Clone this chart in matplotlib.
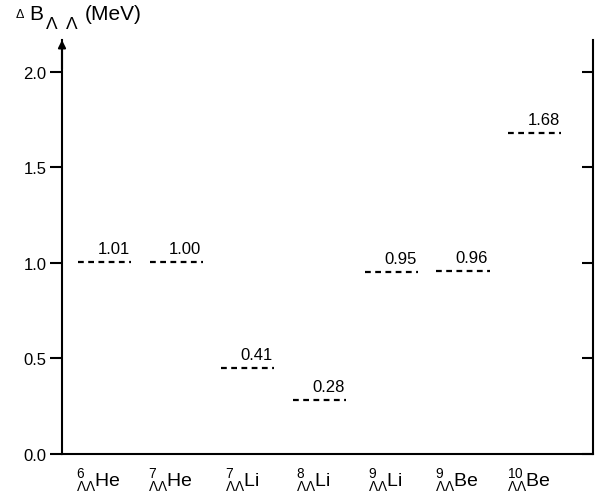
import matplotlib
matplotlib.use('Agg')
import matplotlib.pyplot as plt
import matplotlib.transforms as mtransforms

plt.rcParams['font.family'] = ['Liberation Sans', 'DejaVu Sans']
plt.rcParams['mathtext.fontset'] = 'custom'
plt.rcParams['mathtext.rm'] = 'Liberation Sans'
plt.rcParams['mathtext.it'] = 'Liberation Sans:italic'
plt.rcParams['mathtext.bf'] = 'Liberation Sans:bold'

# 数据
nuclei = ['6He', '7He', '7Li', '8Li', '9Li', '9Be', '10Be']
mass_numbers = ['6', '7', '7', '8', '9', '9', '10']
elements = ['He', 'He', 'Li', 'Li', 'Li', 'Be', 'Be']
delta_b = [1.005, 1.005, 0.45, 0.283, 0.953, 0.96, 1.68]   # 图中线段高度
value_labels = ['1.01', '1.00', '0.41', '0.28', '0.95', '0.96', '1.68']
yticks = [0.0, 0.5, 1.0, 1.5, 2.0]

fig = plt.figure(figsize=(6.05, 5.02), dpi=100)
ax = fig.add_axes([62 / 605, 47 / 502, 531 / 605, 414 / 502])

x = list(range(len(nuclei)))
half = 0.37
for xi, yi, lab in zip(x, delta_b, value_labels):
    ax.plot([xi - half, xi + half], [yi, yi], color='black', lw=1.6,
            linestyle=(0, (2.6, 2.0)), solid_capstyle='butt')
    ax.annotate(lab, (xi + half, yi), xytext=(-1, 4), textcoords='offset points',
                ha='right', va='bottom', fontsize=12)

ax.set_xlim(-0.593, 6.813)
ax.set_ylim(0, 2.167)

ax.spines['top'].set_visible(False)
for s in ['left', 'right', 'bottom']:
    ax.spines[s].set_linewidth(1.5)

ax.set_yticks(yticks)
ax.set_yticklabels(['%.1f' % v for v in yticks])
ax.tick_params(axis='y', left=True, right=False, direction='out',
               length=9, width=1.5, labelsize=12, pad=2)

# 右侧刻度朝内
ax2 = ax.twinx()
ax2.set_ylim(ax.get_ylim())
ax2.set_yticks(yticks)
ax2.tick_params(axis='y', right=True, direction='in', length=8, width=1.5,
                labelright=False)
for s in ax2.spines.values():
    s.set_visible(False)

ax.set_xticks(x)
ax.set_xticklabels([r'${}^{%s}_{\Lambda\Lambda}\mathrm{%s}$' % (m, e)
                    for m, e in zip(mass_numbers, elements)])
ax.tick_params(axis='x', length=0, labelsize=14, pad=9)
shift = mtransforms.ScaledTranslation(-6 / 100, 0, fig.dpi_scale_trans)
for lbl in ax.get_xticklabels():
    lbl.set_transform(lbl.get_transform() + shift)

# 左轴箭头
ax.annotate('', xy=(0, 1.0), xytext=(0, 0.93), xycoords='axes fraction',
            arrowprops=dict(arrowstyle='-|>', lw=1.5, color='black',
                            mutation_scale=11, shrinkA=0, shrinkB=0))

# 轴标题（分段放置）
def fx(px):
    return px / 605

def fy(px):
    return 1 - px / 502

fig.text(fx(16), fy(18), '\u0394', fontsize=9, ha='left', va='baseline')
fig.text(fx(29), fy(20), 'B', fontsize=15, ha='left', va='baseline')
fig.text(fx(46), fy(29), '\u039b', fontsize=12.5, ha='left', va='baseline')
fig.text(fx(66), fy(29), '\u039b', fontsize=12.5, ha='left', va='baseline')
fig.text(fx(85), fy(20), '(MeV)', fontsize=15, ha='left', va='baseline')

fig.savefig('out.png', dpi=100)
